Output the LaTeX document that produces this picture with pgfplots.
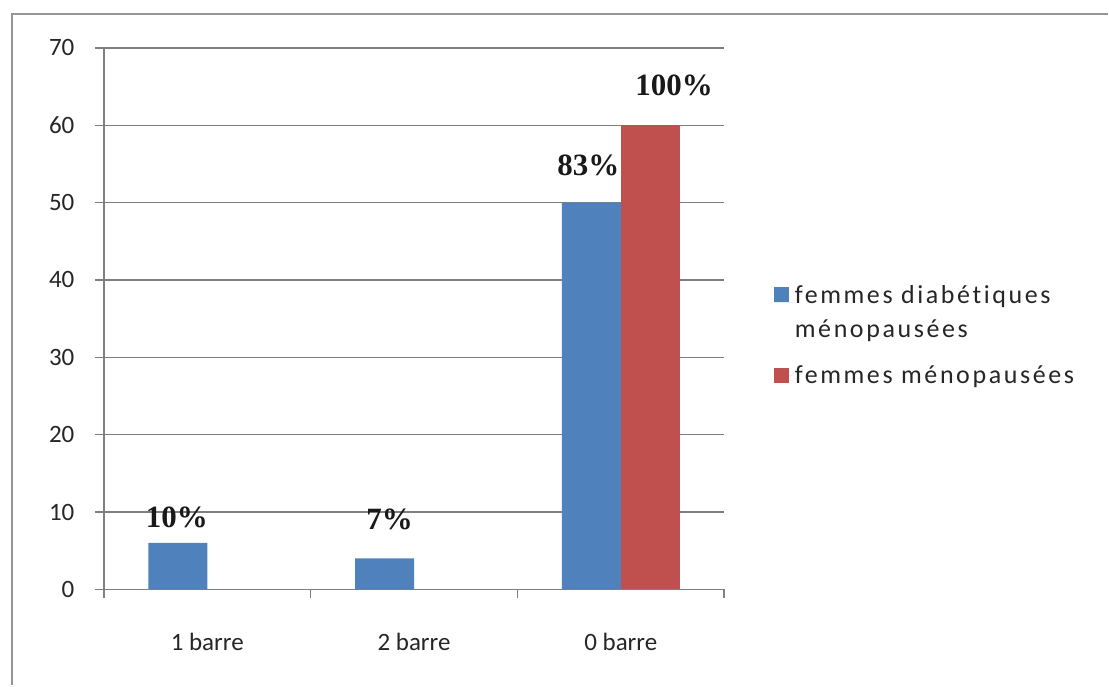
\documentclass[border=0pt]{standalone}
\usepackage{pgfplots}
\pgfplotsset{compat=1.18}
\usepackage{fontspec}
\setmainfont{Carlito}
\newfontfamily\labelfont{Liberation Serif}
\newfontfamily\legendfont[LetterSpace=10, Ligatures=NoCommon]{Carlito}
\definecolor{serieblue}{RGB}{79,129,189}
\definecolor{seriered}{RGB}{192,80,77}
\definecolor{gridgray}{RGB}{128,128,128}
\definecolor{framegray}{RGB}{150,150,150}

\begin{document}
\begin{tikzpicture}
  % page extent and the chart frame (top and left edges)
  \path (0pt,0pt) rectangle (1109pt,686pt);
  \draw[framegray, line width=2.5pt] (12pt,0pt) -- (12pt,672pt) -- (1109pt,672pt);
  \begin{axis}[
    at={(104pt,96pt)}, anchor=south west,
    scale only axis, width=621pt, height=542pt,
    xmin=-0.5, xmax=2.5, ymin=0, ymax=70,
    ytick={0,10,...,70},
    xtick={0,1,2}, xticklabels={1 barre,2 barre,0 barre},
    minor xtick={-0.5,0.5,1.5,2.5},
    axis x line*=bottom, axis y line*=left,
    tick align=outside,
    major tick length=9pt, minor tick length=9pt,
    every major x tick/.style={draw=none},
    tick style={gridgray, line width=1.5pt},
    axis line style={gridgray, line width=1.5pt},
    ymajorgrids, major grid style={gridgray, line width=1.5pt},
    /pgf/number format/assume math mode=true,
    tick label style={font=\fontsize{25}{28}\selectfont, text=black!85},
    yticklabel style={xshift=-17pt},
    xticklabel style={yshift=-31pt},
    ybar=0pt, bar width=59pt,
    legend style={at={(1.075,0.47)}, anchor=west, draw=none, fill=none,
      font=\legendfont\fontsize{26}{35}\selectfont, text=black!85,
      cells={align=left}, row sep=22pt},
    legend cell align=left,
  ]
    \addplot[fill=serieblue, draw=none,
      legend image code/.code={\fill[serieblue] (0pt,10pt) rectangle (15pt,25pt);
        \path (0pt,10pt) -- (19pt,10pt);}]
      coordinates {(0,6) (1,4) (2,50)};
    \addlegendentry{femmes diabétiques\\ménopausées}
    \addplot[fill=seriered, draw=none,
      legend image code/.code={\fill[seriered] (0pt,-7.5pt) rectangle (15pt,7.5pt);
        \path (0pt,0pt) -- (19pt,0pt);}]
      coordinates {(2,60)};
    \addlegendentry{femmes ménopausées}

    % percentage labels above the bars
    \begin{scope}[every node/.style={font=\labelfont\bfseries\fontsize{31}{34}\selectfont, text=black!90}]
      \node at (axis cs:-0.147,9.3) {10\%};
      \node at (axis cs:0.882,9.0) {7\%};
      \node at (axis cs:1.843,54.8) {83\%};
      \node at (axis cs:2.258,65.1) {100\%};
    \end{scope}
  \end{axis}
\end{tikzpicture}
\end{document}
